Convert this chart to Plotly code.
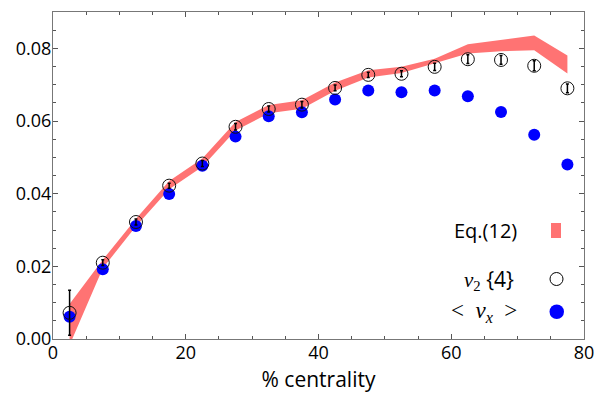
import plotly.graph_objects as go

centrality = [2.5, 7.5, 12.5, 17.5, 22.5, 27.5, 32.5, 37.5, 42.5, 47.5, 52.5, 57.5, 62.5, 67.5, 72.5, 77.5]
v24 = [0.0072, 0.0210, 0.0322, 0.0422, 0.0483, 0.0584, 0.0633, 0.0645, 0.0691, 0.0727, 0.0730, 0.0749, 0.0770, 0.0768, 0.0752, 0.0690]
v24_err = [0.0062, 0.0008, 0.0008, 0.0007, 0.0008, 0.0009, 0.0008, 0.0009, 0.0008, 0.0007, 0.0008, 0.0010, 0.0012, 0.0012, 0.0014, 0.0012]
vx = [0.0061, 0.0192, 0.0311, 0.0399, 0.0477, 0.0557, 0.0613, 0.0624, 0.0659, 0.0684, 0.0679, 0.0684, 0.0668, 0.0625, 0.0562, 0.0480]
band_upper = [0.0096, 0.0218, 0.0331, 0.0435, 0.0497, 0.0597, 0.0644, 0.0657, 0.0706, 0.0740, 0.0749, 0.0771, 0.0811, 0.0823, 0.0835, 0.0780]
band_lower = [-0.0017, 0.0195, 0.0310, 0.0412, 0.0474, 0.0574, 0.0621, 0.0634, 0.0683, 0.0720, 0.0732, 0.0758, 0.0786, 0.0792, 0.0795, 0.0731]

RED = "#ff7373"
BLUE = "#0000ff"

fig = go.Figure()
fig.add_trace(go.Scatter(x=centrality, y=band_upper, mode="lines", line=dict(width=0, color=RED),
                         showlegend=False, hoverinfo="skip"))
fig.add_trace(go.Scatter(x=centrality, y=band_lower, mode="lines", line=dict(width=0, color=RED),
                         fill="tonexty", fillcolor=RED, showlegend=False, hoverinfo="skip"))
fig.add_trace(go.Scatter(x=centrality, y=vx, mode="markers",
                         marker=dict(size=12, color=BLUE, line=dict(width=0)),
                         showlegend=False, cliponaxis=False))
fig.add_trace(go.Scatter(x=centrality, y=v24, mode="markers",
                         marker=dict(size=13, color="rgba(0,0,0,0)", line=dict(width=1, color="#111")),
                         error_y=dict(type="data", array=v24_err, color="black", thickness=1.5, width=1.5),
                         showlegend=False, cliponaxis=False))

axis_common = dict(showline=True, linecolor="#777", linewidth=1, mirror="ticks",
                   ticks="inside", ticklen=5, tickcolor="#555", tickwidth=1,
                   showgrid=False, zeroline=False, automargin=False,
                   tickfont=dict(family="Open Sans", size=18, color="black"))

fig.update_xaxes(range=[0, 80], dtick=20, tick0=0, ticklabelstandoff=-3,
                 minor=dict(dtick=5, ticks="inside", ticklen=3, tickcolor="#555"),
                 title=dict(text="% centrality", font=dict(family="Open Sans", size=21, color="black"), standoff=12),
                 **axis_common)
fig.update_yaxes(range=[0, 0.09], dtick=0.02, tick0=0, tickformat=".2f", ticklabelstandoff=-3,
                 minor=dict(dtick=0.005, ticks="inside", ticklen=3, tickcolor="#555"),
                 **axis_common)

def px_x(px):
    return (px - 53) / 531

def px_y(py):
    return (339 - py) / 327

fig.add_annotation(xref="paper", yref="paper", x=px_x(519), y=px_y(230), xanchor="right", yanchor="middle",
                   text="Eq.(12)", showarrow=False, font=dict(family="Open Sans", size=20, color="black"))
fig.add_annotation(xref="paper", yref="paper", x=px_x(516), y=px_y(279), xanchor="right", yanchor="middle",
                   text="<span style='font-family:Liberation Serif'><i>v</i><sub>2</sub></span> {4}",
                   showarrow=False, font=dict(family="Open Sans", size=21, color="black"))
fig.add_annotation(xref="paper", yref="paper", x=px_x(519), y=px_y(312), xanchor="right", yanchor="middle",
                   text="&lt;  <i>v<sub>x</sub></i>  &gt;",
                   showarrow=False, font=dict(family="Liberation Serif", size=23, color="black"))

fig.add_shape(type="rect", xref="paper", yref="paper", x0=px_x(551), x1=px_x(561), y0=px_y(238), y1=px_y(223),
              fillcolor=RED, line=dict(width=0))
fig.add_shape(type="circle", xref="paper", yref="paper", x0=px_x(550), x1=px_x(563), y0=px_y(285.5), y1=px_y(272.5),
              fillcolor="white", line=dict(width=1, color="black"))
fig.add_shape(type="circle", xref="paper", yref="paper", x0=px_x(549.5), x1=px_x(564), y0=px_y(319), y1=px_y(304.5),
              fillcolor=BLUE, line=dict(width=0))

fig.update_layout(width=603, height=393, margin=dict(l=53, r=19, t=12, b=54),
                  plot_bgcolor="white", paper_bgcolor="white", showlegend=False)

fig.write_html("out.html")
